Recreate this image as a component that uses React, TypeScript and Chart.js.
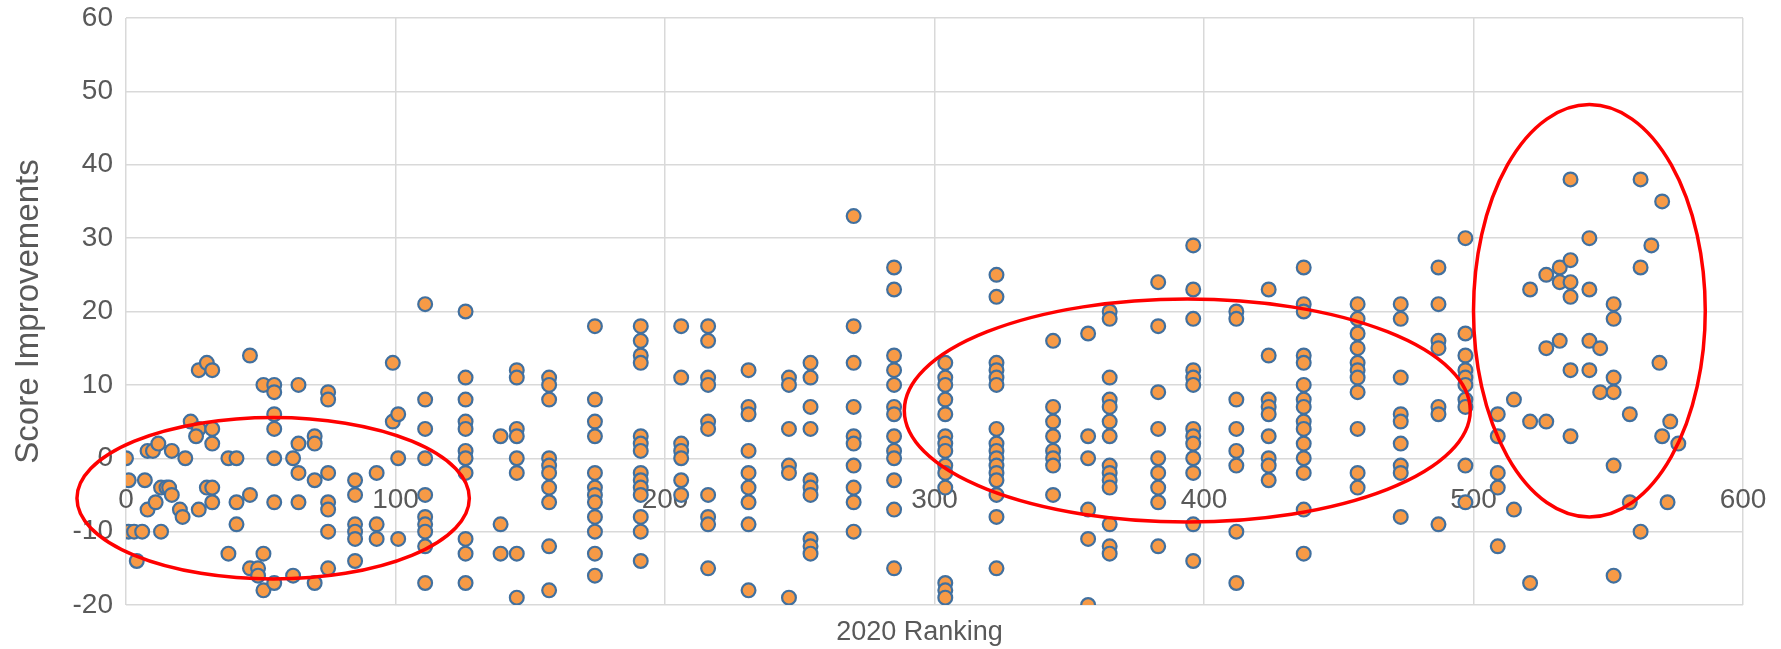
import React, { useEffect, useRef } from 'react';
import { Chart, registerables } from 'chart.js';

Chart.register(...registerables);

// Axis settings
const xMin = 0;
const xMax = 600;
const xStep = 100;
const yMin = -20;
const yMax = 60;
const yStep = 10;

// Ranks 0-101 (mostly untied)
const leftRanks = [
  0, 1, 7, 1, 3, 6, 4, 8, 11, 8, 10, 12, 13, 15, 16, 17, 13, 17, 22, 20, 21, 24, 27, 26,
  32, 32, 27, 30, 32, 27, 30, 32, 32, 38, 41, 41, 41, 38, 46, 46, 46, 49, 49, 51, 51, 51,
  55, 55, 55, 55, 55, 55, 55, 62, 62, 64, 64, 64, 64, 70, 70, 70, 70, 75, 75, 75, 75, 75,
  75, 75, 85, 85, 85, 85, 85, 85, 93, 93, 93, 99, 99, 101, 101, 101,
];
const leftScores = [
  0, -3, -3, -10, -10, -10, -14, -7, -6, 1, 1, 2, -4, -4, -4, -5, -10, 1, 0, -7, -8, 5, 4, 3,
  4, 2, 12, 13, 12, -7, -4, -4, -6, 0, 0, -6, -9, -13, 14, -5, -15, -15, -16, -13, -18, 10,
  10, 9, 6, 4, 0, -6, -17, 0, -16, 10, 2, -2, -6, 3, 2, -3, -17, 9, 8, -2, -6, -7,
  -10, -15, -3, -5, -9, -10, -11, -14, -2, -9, -11, 13, 5, 6, 0, -11,
];

// Tied ranks (columns of points)
const tieRanks = [
  111, 126, 139, 145, 157, 174, 191, 206, 216, 231, 246, 254, 270, 285, 304, 323, 344, 357,
  365, 383, 396, 412, 424, 437, 457, 473, 487, 497, 509, 515, 521, 527, 532, 536, 543, 547,
  552, 558, 562, 566, 569, 570, 572, 573, 576,
];
const tieScores = [
  [21, 8, 4, 0, -5, -8, -9, -10, -12, -17],
  [20, 11, 8, 5, 4, 1, 0, -2, -11, -13, -17],
  [3, -9, -13],
  [12, 11, 4, 3, 0, -2, -13, -19],
  [11, 10, 8, 0, -1, -2, -4, -6, -12, -18],
  [18, 8, 5, 3, -2, -4, -5, -6, -8, -10, -13, -16],
  [18, 16, 14, 13, 3, 2, 1, -2, -3, -4, -5, -8, -10, -14],
  [18, 11, 2, 1, 0, -3, -5],
  [18, 16, 11, 10, 5, 4, -5, -8, -9, -15],
  [12, 7, 6, 1, -2, -4, -6, -9, -18],
  [11, 10, 4, -1, -2, -19],
  [13, 11, 7, 4, -3, -4, -5, -11, -12, -13],
  [33, 18, 13, 7, 3, 2, -1, -4, -6, -10],
  [26, 23, 14, 12, 10, 7, 6, 3, 1, 0, -3, -7, -15],
  [13, 11, 10, 8, 6, 3, 2, 1, -1, -2, -4, -17, -18, -19],
  [25, 22, 13, 12, 11, 10, 4, 2, 1, 0, -1, -2, -3, -5, -8, -15],
  [16, 7, 5, 3, 1, 0, -1, -5],
  [17, 3, 0, -7, -11, -20],
  [20, 19, 11, 8, 7, 5, 3, -1, -2, -3, -4, -9, -12, -13],
  [24, 18, 9, 4, 0, -2, -4, -6, -12],
  [29, 23, 19, 12, 11, 10, 4, 3, 2, 0, -2, -9, -14],
  [20, 19, 8, 4, 1, -1, -10, -17],
  [23, 14, 8, 7, 6, 3, 0, -1, -3],
  [26, 21, 20, 14, 13, 10, 8, 7, 5, 4, 2, 0, -2, -7, -13],
  [21, 19, 17, 15, 13, 12, 11, 9, 4, -2, -4],
  [21, 19, 11, 6, 5, 2, -1, -2, -8],
  [26, 21, 16, 15, 7, 6, -9],
  [30, 17, 14, 12, 11, 10, 8, 7, -1, -6],
  [6, 3, -2, -4, -12],
  [8, -7],
  [23, 5, -17],
  [25, 15, 5],
  [26, 24, 16],
  [38, 27, 24, 22, 12, 3],
  [30, 23, 16, 12],
  [15, 9],
  [21, 19, 11, 9, -1, -16],
  [6, -6],
  [38, 26, -10],
  [29],
  [13],
  [35, 3],
  [-6],
  [5],
  [2],
];

// Highlight ellipses (data units)
const ellipseCenterX = [54.6, 393.8, 543];
const ellipseCenterY = [-5.45, 6.5, 20.1];
const ellipseRadiusX = [72.8, 105, 43];
const ellipseRadiusY = [11, 15.2, 28.1];

const xTitle = '2020 Ranking';
const yTitle = 'Score Improvements';

const FONT = "'Liberation Sans', Arial, sans-serif";
const TEXT = '#595959';
const GRID = '#d9d9d9';

const ellipsePlugin = {
  id: 'highlightEllipses',
  afterDatasetsDraw(chart: any) {
    const { ctx } = chart;
    const xs = chart.scales.x;
    const ys = chart.scales.y;
    ctx.save();
    ctx.strokeStyle = '#FF0000';
    ctx.lineWidth = 3.5;
    for (let i = 0; i < ellipseCenterX.length; i++) {
      const cx = xs.getPixelForValue(ellipseCenterX[i]);
      const cy = ys.getPixelForValue(ellipseCenterY[i]);
      const rx = Math.abs(xs.getPixelForValue(ellipseCenterX[i] + ellipseRadiusX[i]) - cx);
      const ry = Math.abs(ys.getPixelForValue(ellipseCenterY[i] + ellipseRadiusY[i]) - cy);
      ctx.beginPath();
      ctx.ellipse(cx, cy, rx, ry, 0, 0, Math.PI * 2);
      ctx.stroke();
    }
    ctx.restore();
  },
};

export default function App() {
  const canvasRef = useRef<HTMLCanvasElement | null>(null);

  useEffect(() => {
    document.body.style.margin = '0';
    const points: { x: number; y: number }[] = [];
    leftRanks.forEach((r, i) => points.push({ x: r, y: leftScores[i] }));
    tieRanks.forEach((r, i) => tieScores[i].forEach((s) => points.push({ x: r, y: s })));

    const chart = new Chart(canvasRef.current as HTMLCanvasElement, {
      type: 'scatter',
      data: {
        datasets: [
          {
            label: 'Score Improvements',
            data: points,
            backgroundColor: '#F79A46',
            borderColor: '#41709F',
            borderWidth: 2.2,
            pointRadius: 6.9,
            pointHoverRadius: 6.9,
          },
        ],
      },
      options: {
        responsive: false,
        animation: false,
        maintainAspectRatio: false,
        layout: { padding: { left: 0, right: 38, top: 18, bottom: 0 } },
        plugins: {
          legend: { display: false },
          tooltip: { enabled: false },
        },
        scales: {
          x: {
            type: 'linear',
            min: xMin,
            max: xMax,
            position: { y: 0 } as any,
            ticks: {
              stepSize: xStep,
              color: TEXT,
              font: { size: 28, family: FONT },
              padding: 25,
              maxRotation: 0,
            },
            grid: { color: GRID, lineWidth: 1.5, drawTicks: false },
            border: { display: false },
            afterFit: (s: any) => {
              s.paddingLeft = 0;
              s.paddingRight = 0;
            },
          },
          x2: {
            type: 'linear',
            axis: 'x',
            position: 'bottom',
            min: xMin,
            max: xMax,
            ticks: { display: false },
            grid: { display: false, drawTicks: false },
            border: { display: false },
            title: {
              display: true,
              text: xTitle + '    ',
              color: TEXT,
              font: { size: 27, family: FONT },
              padding: { top: 0, bottom: 0 },
            },
            afterFit: (s: any) => {
              s.height = 44;
              s.paddingLeft = 0;
              s.paddingRight = 0;
            },
          },
          y: {
            type: 'linear',
            min: yMin,
            max: yMax,
            ticks: {
              stepSize: yStep,
              color: TEXT,
              font: { size: 28, family: FONT },
              padding: 13,
            },
            grid: { color: GRID, lineWidth: 1.5, drawTicks: false },
            border: { display: false },
            title: {
              display: true,
              text: yTitle,
              color: TEXT,
              font: { size: 33, family: FONT },
              padding: { top: 9, bottom: 0 },
            },
            afterFit: (s: any) => {
              s.width = 126;
              s.paddingTop = 0;
              s.paddingBottom = 0;
            },
          },
        },
      },
      plugins: [ellipsePlugin],
    });
    return () => chart.destroy();
  }, []);

  return (
    <div style={{ width: 1781, height: 649 }}>
      <canvas ref={canvasRef} width={1781} height={649} style={{ display: 'block' }} />
    </div>
  );
}
